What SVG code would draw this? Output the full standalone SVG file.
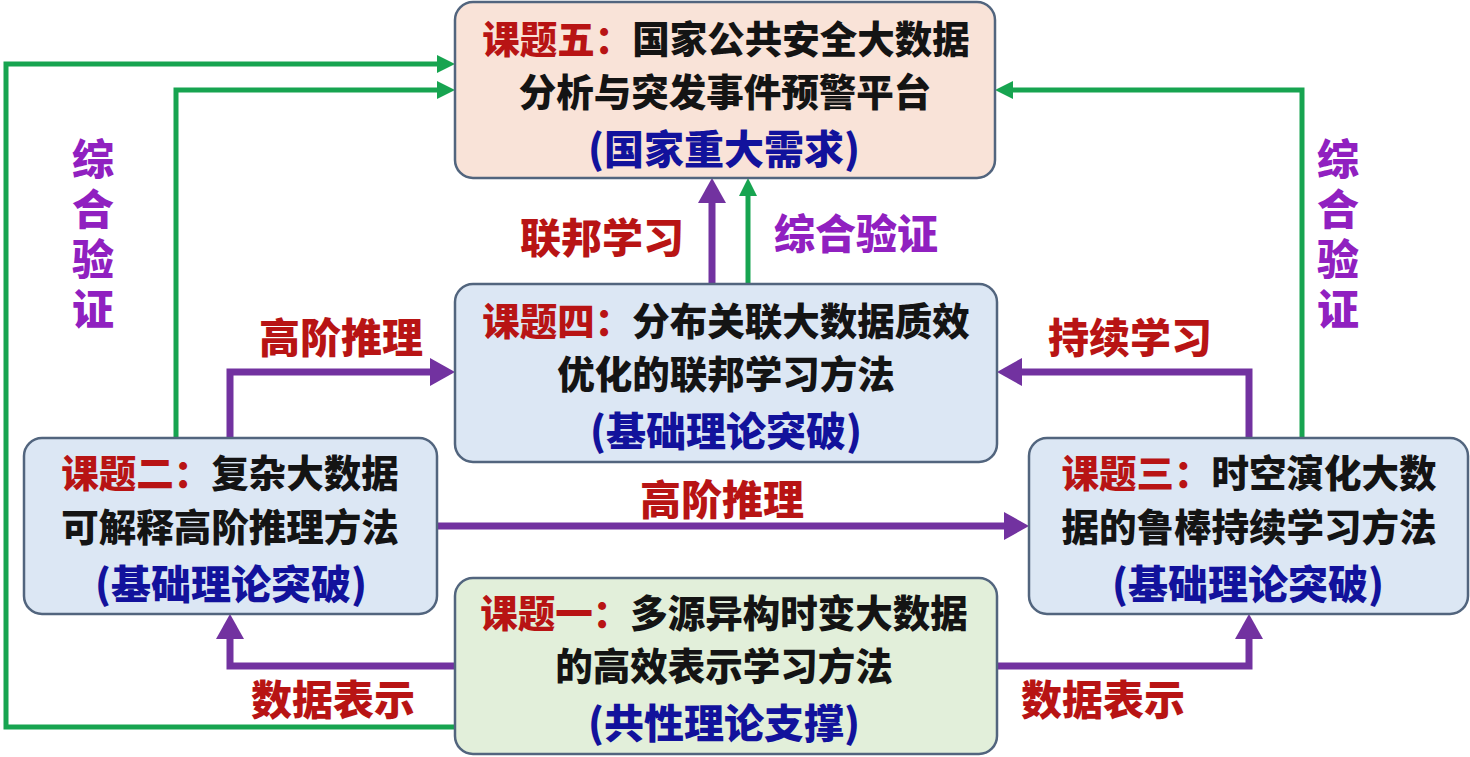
<svg xmlns="http://www.w3.org/2000/svg" width="1470" height="757" viewBox="0 0 1470 757">
<style>
.box{stroke:#52657e;stroke-width:2.5}
.t{font-family:"Noto Sans CJK SC","Noto Sans",sans-serif;font-weight:900;text-anchor:middle}
.bt{font-size:37.5px;fill:#141414}
.red{fill:#b81414}
.blue{fill:#12129c;font-size:40px}
.lbl{font-size:41px;fill:#b81414}
.vl{font-size:42px;fill:#9020c0;writing-mode:vertical-rl;letter-spacing:8px}
.pl{fill:none;stroke:#7232a0;stroke-width:7}
.gl{fill:none;stroke:#17a450;stroke-width:5}
</style>
<defs>
<marker id="pa" markerUnits="userSpaceOnUse" markerWidth="26" markerHeight="28" refX="0" refY="14" orient="auto" overflow="visible">
<path d="M0,0 L25,14 L0,28 z" fill="#7232a0"/>
</marker>
<marker id="ga" markerUnits="userSpaceOnUse" markerWidth="18" markerHeight="18" refX="0" refY="9" orient="auto" overflow="visible">
<path d="M0,0 L18,9 L0,18 z" fill="#17a450"/>
</marker>
</defs>
<rect width="1470" height="757" fill="#ffffff"/>

<g id="connectors">
<path class="gl" d="M455,727 H6 V64 H437" marker-end="url(#ga)"/>
<path class="gl" d="M176,438 V90 H437" marker-end="url(#ga)"/>
<path class="gl" d="M1302,438 V90 H1013" marker-end="url(#ga)"/>
<path class="gl" d="M748,284 V196" marker-end="url(#ga)"/>
<path class="pl" d="M712,284 V203" marker-end="url(#pa)"/>
<path class="pl" d="M230,438 V372 H430" marker-end="url(#pa)"/>
<path class="pl" d="M1249,438 V372 H1022" marker-end="url(#pa)"/>
<path class="pl" d="M437,526 H1004" marker-end="url(#pa)"/>
<path class="pl" d="M455,666 H230 V639" marker-end="url(#pa)"/>
<path class="pl" d="M997,666 H1249 V639" marker-end="url(#pa)"/>
</g>

<g id="labels">
<text class="t lbl" x="602" y="253">联邦学习</text>
<text class="t lbl" x="856" y="249" style="fill:#9020c0">综合验证</text>
<text class="t lbl" x="341" y="353">高阶推理</text>
<text class="t lbl" x="1130" y="353">持续学习</text>
<text class="t lbl" x="722" y="515">高阶推理</text>
<text class="t lbl" x="333" y="715">数据表示</text>
<text class="t lbl" x="1103" y="715">数据表示</text>
<text class="t vl" x="93" y="238">综合验证</text>
<text class="t vl" x="1338" y="238">综合验证</text>
</g>

<g id="node5">
<rect class="box" x="455" y="2" width="540" height="176" rx="18" fill="#f9e3d8"/>
<text class="t bt" x="726" y="53"><tspan class="red">课题五：</tspan>国家公共安全大数据</text>
<text class="t bt" x="725" y="106">分析与突发事件预警平台</text>
<text class="t bt blue" x="724" y="164">(国家重大需求)</text>
</g>

<g id="node4">
<rect class="box" x="455" y="284" width="542" height="178" rx="18" fill="#dce7f4"/>
<text class="t bt" x="726" y="335"><tspan class="red">课题四：</tspan>分布关联大数据质效</text>
<text class="t bt" x="726" y="388">优化的联邦学习方法</text>
<text class="t bt blue" x="726" y="446">(基础理论突破)</text>
</g>

<g id="node2">
<rect class="box" x="24" y="438" width="413" height="176" rx="18" fill="#dce7f4"/>
<text class="t bt" x="230" y="487"><tspan class="red">课题二：</tspan>复杂大数据</text>
<text class="t bt" x="230" y="541">可解释高阶推理方法</text>
<text class="t bt blue" x="231" y="599">(基础理论突破)</text>
</g>

<g id="node3">
<rect class="box" x="1029" y="438" width="439" height="176" rx="18" fill="#dce7f4"/>
<text class="t bt" x="1249" y="487"><tspan class="red">课题三：</tspan>时空演化大数</text>
<text class="t bt" x="1249" y="541">据的鲁棒持续学习方法</text>
<text class="t bt blue" x="1248" y="599">(基础理论突破)</text>
</g>

<g id="node1">
<rect class="box" x="455" y="578" width="542" height="176" rx="18" fill="#e2efda"/>
<text class="t bt" x="724" y="627"><tspan class="red">课题一：</tspan>多源异构时变大数据</text>
<text class="t bt" x="724" y="680">的高效表示学习方法</text>
<text class="t bt blue" x="724" y="738">(共性理论支撑)</text>
</g>
</svg>
